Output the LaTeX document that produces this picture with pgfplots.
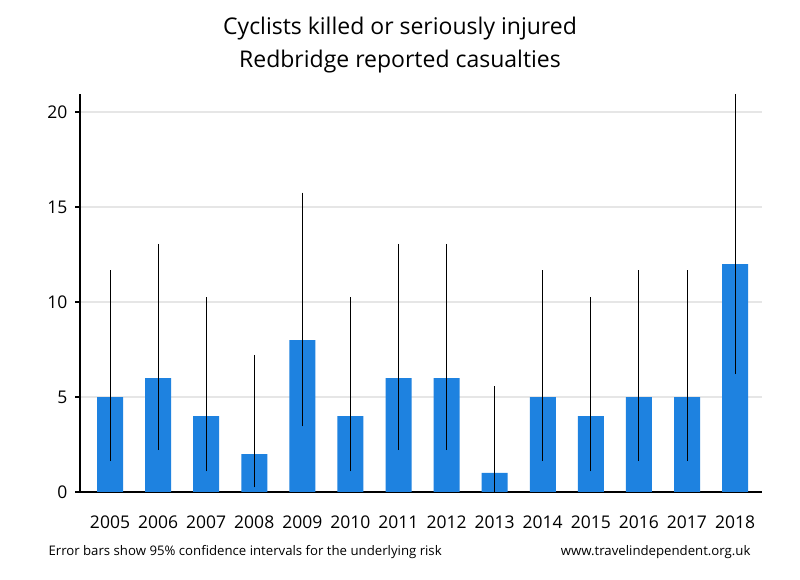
\documentclass[border=0pt]{standalone}
\usepackage{fontspec}
\setmainfont{Open Sans}
\usepackage{pgfplots}
\pgfplotsset{compat=1.18}
\definecolor{barblue}{RGB}{30,130,224}
\definecolor{gridgray}{RGB}{230,230,230}
\begin{document}
\begin{tikzpicture}[x=1pt,y=1pt]
\path[fill=white] (0,0) rectangle (800,580);
\begin{axis}[
  at={(80pt,88pt)}, anchor=origin,
  scale only axis, width=682pt, height=398pt,
  xmin=2004.376, xmax=2018.56, ymin=0, ymax=20.95,
  axis x line*=bottom, axis y line*=left,
  axis line style={line width=2.6pt, -},
  xtick={2005,...,2018}, xticklabel style={/pgf/number format/1000 sep=},
  ytick={0,5,10,15,20},
  major x tick style={draw=none},
  ytick style={line width=2pt, black},
  tick align=outside, major tick length=5pt,
  ymajorgrids, grid style={gridgray, line width=1.3pt},
  /pgf/number format/assume math mode=true,
  tick label style={font=\fontsize{17.5}{20}\selectfont},
  xticklabel style={yshift=-15pt},
  yticklabel style={xshift=-4pt},
  clip=false,
]
\addplot[ybar, bar width=26pt, fill=barblue, draw=none,
  error bars/.cd, y dir=both, y explicit, error mark=none,
  error bar style={black, line width=0.9pt}]
coordinates {
(2005,5) += (0,6.67) -= (0,3.38)
(2006,6) += (0,7.06) -= (0,3.80)
(2007,4) += (0,6.24) -= (0,2.91)
(2008,2) += (0,5.22) -= (0,1.76)
(2009,8) += (0,7.76) -= (0,4.55)
(2010,4) += (0,6.24) -= (0,2.91)
(2011,6) += (0,7.06) -= (0,3.80)
(2012,6) += (0,7.06) -= (0,3.80)
(2013,1) += (0,4.57) -= (0,0.975)
(2014,5) += (0,6.67) -= (0,3.38)
(2015,4) += (0,6.24) -= (0,2.91)
(2016,5) += (0,6.67) -= (0,3.38)
(2017,5) += (0,6.67) -= (0,3.38)
(2018,12) += (0,8.96) -= (0,5.80)
};
\end{axis}
\node[align=center, font=\fontsize{23}{33}\selectfont] at (400,535) {Cyclists killed or seriously injured\\Redbridge reported casualties};
\node[anchor=west, font=\fontsize{13.2}{16}\selectfont] at (45,28) {Error bars show 95\% confidence intervals for the underlying risk};
\node[anchor=east, font=\fontsize{13.2}{16}\selectfont] at (754,28) {www.travelindependent.org.uk};
\end{tikzpicture}
\end{document}
